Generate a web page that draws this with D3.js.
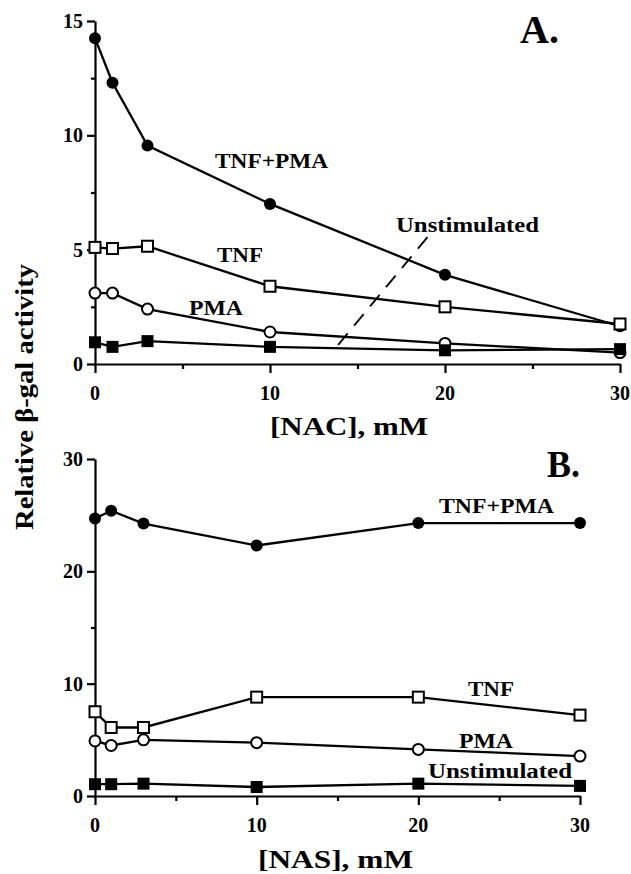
<!DOCTYPE html>
<html>
<head>
<meta charset="utf-8">
<script src="https://cdn.jsdelivr.net/npm/d3@7"></script>
<style>
  html, body { margin: 0; padding: 0; background: #fff; }
  svg { display: block; }
  text { font-family: "Liberation Serif", "Times New Roman", serif; font-weight: bold; fill: #000; }
</style>
</head>
<body>
<svg id="chart" width="631" height="874"></svg>
<script>
// ---------- data ----------
const concentrations = [0, 1, 3, 10, 20, 30];
const xTickValues = [0, 10, 20, 30];
const xMinorTicks = [5, 15, 25];

// Panel A : NAC
const nacTnfPma = [14.25, 12.3, 9.55, 7.0, 3.9, 1.65];
const nacTnf    = [5.1, 5.05, 5.15, 3.4, 2.5, 1.75];
const nacPma    = [3.1, 3.1, 2.4, 1.4, 0.9, 0.5];
const nacUnstim = [0.95, 0.75, 1.0, 0.75, 0.6, 0.65];
const nacYTicks = [0, 5, 10, 15];
const nacYMinor = [2.5, 7.5, 12.5];

// Panel B : NAS
const nasTnfPma = [24.7, 25.4, 24.25, 22.3, 24.3, 24.3];
const nasTnf    = [7.5, 6.1, 6.1, 8.8, 8.8, 7.2];
const nasPma    = [4.9, 4.5, 5.0, 4.75, 4.15, 3.55];
const nasUnstim = [1.05, 1.05, 1.1, 0.8, 1.1, 0.9];
const nasYTicks = [0, 10, 20, 30];
const nasYMinor = [5, 15, 25];

const seriesNames = ["TNF+PMA", "TNF", "PMA", "Unstimulated"];
const markerTypes = ["filledCircle", "openSquare", "openCircle", "filledSquare"];

// ---------- drawing ----------
const svg = d3.select("#chart");

function drawPanel(cfg) {
  const x = d3.scaleLinear().domain([0, 30]).range([cfg.x0, cfg.x1]);
  const y = d3.scaleLinear().domain([0, cfg.yMax]).range([cfg.y0, cfg.y1]);
  const g = svg.append("g");

  // axes
  g.append("g").attr("transform", `translate(0,${cfg.y0})`)
    .call(d3.axisBottom(x).tickValues(xTickValues).tickSize(9).tickSizeOuter(0).tickFormat(""));
  g.append("g").attr("transform", `translate(0,${cfg.y0})`)
    .call(d3.axisBottom(x).tickValues(xMinorTicks).tickSize(5).tickSizeOuter(0).tickFormat(""))
    .select(".domain").remove();
  g.append("g").attr("transform", `translate(${cfg.x0},0)`)
    .call(d3.axisLeft(y).tickValues(cfg.yTicks).tickSize(8).tickSizeOuter(0).tickFormat(""));
  g.append("g").attr("transform", `translate(${cfg.x0},0)`)
    .call(d3.axisLeft(y).tickValues(cfg.yMinor).tickSize(4).tickSizeOuter(0).tickFormat(""))
    .select(".domain").remove();
  g.selectAll(".domain, .tick line").attr("stroke", "#000").attr("stroke-width", 2.2);

  // tick labels
  g.selectAll(".xlab").data(xTickValues).join("text")
    .attr("x", d => x(d)).attr("y", cfg.y0 + 36)
    .attr("text-anchor", "middle").attr("font-size", 20).text(d => d);
  g.selectAll(".ylab").data(cfg.yTicks).join("text")
    .attr("x", cfg.x0 - 12).attr("y", d => y(d) + 7)
    .attr("text-anchor", "end").attr("font-size", 20).text(d => d);

  // lines
  const line = d3.line().x((d, i) => x(concentrations[i])).y(d => y(d));
  cfg.series.forEach(vals => {
    g.append("path").datum(vals).attr("d", line)
      .attr("fill", "none").attr("stroke", "#000").attr("stroke-width", 2.3);
  });

  // markers
  cfg.series.forEach((vals, si) => {
    const type = markerTypes[si];
    const mg = g.append("g");
    vals.forEach((v, i) => {
      const cx = x(concentrations[i]), cy = y(v);
      if (type === "filledCircle") {
        mg.append("circle").attr("cx", cx).attr("cy", cy).attr("r", 6).attr("fill", "#000");
      } else if (type === "openCircle") {
        mg.append("circle").attr("cx", cx).attr("cy", cy).attr("r", 5.5)
          .attr("fill", "#fff").attr("stroke", "#000").attr("stroke-width", 2);
      } else if (type === "openSquare") {
        mg.append("rect").attr("x", cx - 5.5).attr("y", cy - 5.5).attr("width", 11).attr("height", 11)
          .attr("fill", "#fff").attr("stroke", "#000").attr("stroke-width", 2);
      } else {
        mg.append("rect").attr("x", cx - 6).attr("y", cy - 6).attr("width", 12).attr("height", 12)
          .attr("fill", "#000");
      }
    });
  });

  // labels
  cfg.labels.forEach(l => {
    g.append("text").attr("x", l.x).attr("y", l.y).attr("font-size", l.size)
      .attr("textLength", l.w).attr("lengthAdjust", "spacingAndGlyphs").text(l.t);
  });

  // axis title
  g.append("text").attr("x", cfg.titleX).attr("y", cfg.titleY).attr("font-size", 26)
    .attr("textLength", cfg.titleW).attr("lengthAdjust", "spacingAndGlyphs").text(cfg.title);

  return { g, x, y };
}

const pA = drawPanel({
  x0: 95, x1: 620, y0: 364, y1: 21, yMax: 15,
  yTicks: nacYTicks, yMinor: nacYMinor,
  series: [nacTnfPma, nacTnf, nacPma, nacUnstim],
  labels: [
    { t: "A.", x: 520, y: 43, size: 40, w: 39 },
    { t: seriesNames[0], x: 215, y: 168, size: 20, w: 113 },
    { t: seriesNames[1], x: 217, y: 262, size: 20, w: 46 },
    { t: seriesNames[2], x: 189, y: 315, size: 20, w: 54 },
    { t: seriesNames[3], x: 396, y: 232, size: 20, w: 143 }
  ],
  title: "[NAC], mM", titleX: 270, titleY: 435, titleW: 158
});

// dashed pointer for "Unstimulated" in panel A
pA.g.append("line")
  .attr("x1", pA.x(19.0)).attr("y1", pA.y(5.55))
  .attr("x2", pA.x(13.8)).attr("y2", pA.y(0.75))
  .attr("stroke", "#000").attr("stroke-width", 1.8).attr("stroke-dasharray", "15,10");

drawPanel({
  x0: 95, x1: 580, y0: 796, y1: 459, yMax: 30,
  yTicks: nasYTicks, yMinor: nasYMinor,
  series: [nasTnfPma, nasTnf, nasPma, nasUnstim],
  labels: [
    { t: "B.", x: 547, y: 477, size: 38, w: 33 },
    { t: seriesNames[0], x: 439, y: 513, size: 20, w: 115 },
    { t: seriesNames[1], x: 468, y: 696, size: 20, w: 46 },
    { t: seriesNames[2], x: 459, y: 748, size: 20, w: 54 },
    { t: seriesNames[3], x: 428, y: 778, size: 20, w: 144 }
  ],
  title: "[NAS], mM", titleX: 258, titleY: 868, titleW: 155
});

// shared y-axis title
svg.append("text")
  .attr("transform", "translate(33,530) rotate(-90)")
  .attr("font-size", 26)
  .attr("textLength", 266).attr("lengthAdjust", "spacingAndGlyphs")
  .text("Relative  β-gal activity");
</script>
</body>
</html>
